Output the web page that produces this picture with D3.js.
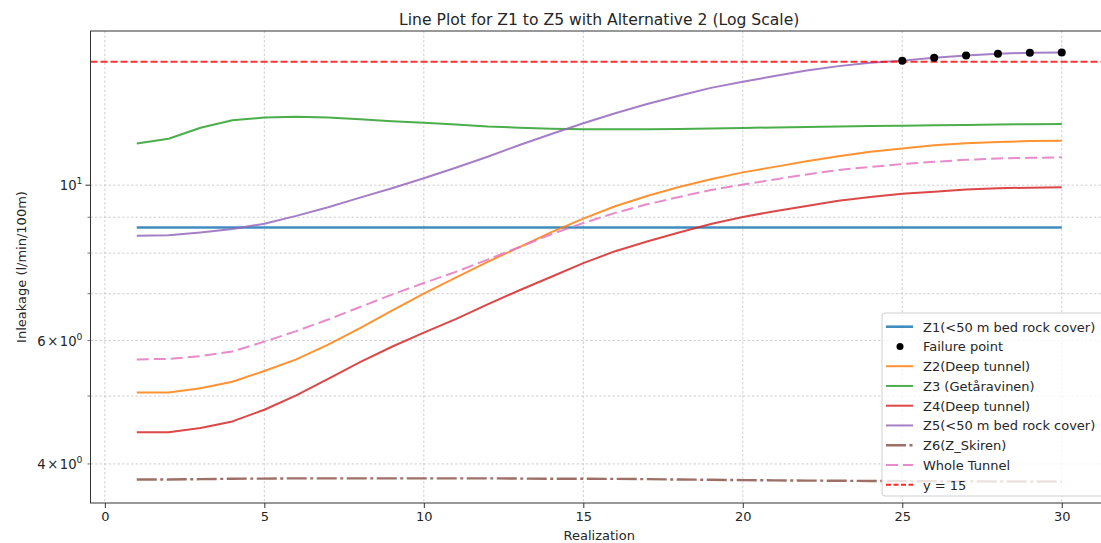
<!DOCTYPE html>
<html>
<head>
<meta charset="utf-8">
<script src="https://cdn.jsdelivr.net/npm/d3@7"></script>
<style>
  body { margin: 0; background: #fff; }
  svg { display: block; font-family: "DejaVu Sans", sans-serif; }
</style>
</head>
<body>
<svg id="chart" width="1101" height="543"></svg>
<script>
// Realization index (x axis)
const realizations = [1,2,3,4,5,6,7,8,9,10,11,12,13,14,15,16,17,18,19,20,21,22,23,24,25,26,27,28,29,30];

// Inleakage per zone (l/min/100m)
const z1 = [8.7,8.7,8.7,8.7,8.7,8.7,8.7,8.7,8.7,8.7,8.7,8.7,8.7,8.7,8.7,8.7,8.7,8.7,8.7,8.7,8.7,8.7,8.7,8.7,8.7,8.7,8.7,8.7,8.7,8.7];
const z2 = [5.06,5.06,5.13,5.24,5.43,5.64,5.92,6.25,6.62,7.00,7.38,7.77,8.16,8.57,8.96,9.33,9.65,9.94,10.20,10.43,10.62,10.82,11.00,11.16,11.28,11.40,11.48,11.53,11.56,11.57];
const z3 = [11.47,11.65,12.08,12.38,12.49,12.52,12.49,12.42,12.34,12.28,12.21,12.13,12.08,12.04,12.02,12.02,12.02,12.03,12.05,12.07,12.09,12.11,12.13,12.15,12.16,12.18,12.19,12.21,12.22,12.23];
const z4 = [4.44,4.44,4.50,4.60,4.78,5.01,5.29,5.59,5.88,6.16,6.44,6.76,7.08,7.40,7.74,8.05,8.31,8.56,8.80,9.01,9.18,9.34,9.50,9.62,9.72,9.79,9.86,9.90,9.92,9.93];
const z5 = [8.47,8.48,8.56,8.66,8.81,9.04,9.30,9.60,9.90,10.23,10.59,10.98,11.41,11.83,12.26,12.67,13.06,13.42,13.77,14.05,14.32,14.58,14.79,14.96,15.06,15.20,15.31,15.40,15.46,15.47];
const z6 = [3.800,3.800,3.805,3.810,3.812,3.815,3.815,3.815,3.815,3.815,3.815,3.815,3.812,3.810,3.810,3.808,3.805,3.800,3.797,3.793,3.790,3.787,3.785,3.782,3.780,3.778,3.777,3.776,3.775,3.775];
const wholeTunnel = [5.64,5.65,5.70,5.79,5.98,6.19,6.43,6.70,6.98,7.25,7.52,7.83,8.16,8.51,8.83,9.13,9.39,9.62,9.84,10.02,10.19,10.36,10.51,10.62,10.72,10.80,10.87,10.92,10.94,10.96];

// Failure threshold
const threshold = 15;

// Axis ticks
const xTicks = [0,5,10,15,20,25,30];
const yMajorTicks = [10];
const yMinorTicks = [4,5,6,7,8,9];
const yLabelled = [
  { v: 4, mant: "4", exp: "0" },
  { v: 6, mant: "6", exp: "0" },
  { v: 10, mant: null, exp: "1" }
];

const series = [
  { name: "Z1(<50 m bed rock cover)", values: z1, color: "#1f77b4", width: 2.6, dash: null },
  { name: "Z2(Deep tunnel)", values: z2, color: "#ff7f0e", width: 2, dash: null },
  { name: "Z3 (Getåravinen)", values: z3, color: "#2ca02c", width: 2, dash: null },
  { name: "Z4(Deep tunnel)", values: z4, color: "#d62728", width: 2, dash: null },
  { name: "Z5(<50 m bed rock cover)", values: z5, color: "#9467bd", width: 2, dash: null },
  { name: "Z6(Z_Skiren)", values: z6, color: "#8c564b", width: 2.4, dash: "20,3.5,3,3.5" },
  { name: "Whole Tunnel", values: wholeTunnel, color: "#e377c2", width: 2, dash: "12,5" }
];

const failures = realizations
  .map((r, i) => ({ x: r, y: z5[i] }))
  .filter(d => d.y > threshold);

const svg = d3.select("#chart");
const plot = { left: 90.5, right: 1108, top: 31, bottom: 503 };
const textColor = "#262626";

// Axis limits padded by 5% of the data span (log span for y)
const xExt = d3.extent(realizations);
const xPad = (xExt[1] - xExt[0]) * 0.05;
const allY = [].concat(...series.map(s => s.values), [threshold]);
const lyMin = Math.log10(d3.min(allY)), lyMax = Math.log10(d3.max(allY));
const lyPad = (lyMax - lyMin) * 0.05;

const x = d3.scaleLinear().domain([xExt[0] - xPad, xExt[1] + xPad]).range([plot.left, plot.right]);
const y = d3.scaleLog().domain([Math.pow(10, lyMin - lyPad), Math.pow(10, lyMax + lyPad)]).range([plot.bottom, plot.top]);

const defs = svg.append("defs");
defs.append("clipPath").attr("id", "plotClip")
  .append("rect")
  .attr("x", plot.left).attr("y", plot.top)
  .attr("width", plot.right - plot.left).attr("height", plot.bottom - plot.top);

// Grid (major and minor)
const grid = svg.append("g").attr("stroke", "#c4c4c4").attr("stroke-width", 0.8).attr("stroke-dasharray", "2.5,2");
grid.selectAll("line.vx").data(xTicks).join("line")
  .attr("x1", d => x(d)).attr("x2", d => x(d))
  .attr("y1", plot.top).attr("y2", plot.bottom);
grid.selectAll("line.hy").data(yMajorTicks.concat(yMinorTicks)).join("line")
  .attr("x1", plot.left).attr("x2", plot.right)
  .attr("y1", d => y(d)).attr("y2", d => y(d));

// Lines
const gLines = svg.append("g").attr("clip-path", "url(#plotClip)");
const line = d3.line().x((d, i) => x(realizations[i])).y(d => y(d));

function drawSeries(s) {
  gLines.append("path")
    .attr("d", line(s.values))
    .attr("fill", "none")
    .attr("stroke", s.color)
    .attr("stroke-opacity", 0.85)
    .attr("stroke-width", s.width)
    .attr("stroke-dasharray", s.dash)
    .attr("stroke-linejoin", "round");
}
series.forEach(drawSeries);

// Threshold line
gLines.append("line")
  .attr("x1", plot.left).attr("x2", plot.right)
  .attr("y1", y(threshold)).attr("y2", y(threshold))
  .attr("stroke", "#ff0000").attr("stroke-opacity", 0.8)
  .attr("stroke-width", 2).attr("stroke-dasharray", "7,3");

// Failure points
gLines.selectAll("circle.fail").data(failures).join("circle")
  .attr("cx", d => x(d.x)).attr("cy", d => y(d.y))
  .attr("r", 4).attr("fill", "#000");

// Spines
svg.append("rect")
  .attr("x", plot.left).attr("y", plot.top)
  .attr("width", plot.right - plot.left).attr("height", plot.bottom - plot.top)
  .attr("fill", "none").attr("stroke", "#333").attr("stroke-width", 1);

// X axis
const xAxis = d3.axisBottom(x).tickValues(xTicks).tickSize(5).tickPadding(4).tickFormat(d3.format("d"));
const gx = svg.append("g").attr("transform", `translate(0,${plot.bottom})`).call(xAxis);
gx.select(".domain").remove();
gx.selectAll(".tick line").attr("stroke", "#333");
gx.selectAll(".tick text").attr("font-size", 13).attr("font-family", "DejaVu Sans").attr("fill", textColor);

// Y axis: major + minor tick marks
const gy = svg.append("g");
gy.selectAll("line.maj").data(yMajorTicks).join("line")
  .attr("x1", plot.left - 5).attr("x2", plot.left)
  .attr("y1", d => y(d)).attr("y2", d => y(d)).attr("stroke", "#333");
gy.selectAll("line.min").data(yMinorTicks).join("line")
  .attr("x1", plot.left - 3).attr("x2", plot.left)
  .attr("y1", d => y(d)).attr("y2", d => y(d)).attr("stroke", "#333").attr("stroke-width", 0.7);

const yl = gy.selectAll("text.yl").data(yLabelled).join("text")
  .attr("x", plot.left - 8).attr("y", d => y(d.v) + 5)
  .attr("text-anchor", "end").attr("font-size", 13.2).attr("fill", textColor);
yl.each(function(d) {
  const t = d3.select(this);
  if (d.mant) {
    t.append("tspan").text(d.mant);
    t.append("tspan").text("\u00d7").attr("dx", 1.5);
    t.append("tspan").text("10").attr("dx", 1.5);
  } else {
    t.append("tspan").text("10");
  }
  t.append("tspan").text(d.exp).attr("font-size", 9.3).attr("dy", -6);
});

// Title and axis labels
svg.append("text").attr("x", (plot.left + plot.right) / 2).attr("y", 25)
  .attr("text-anchor", "middle").attr("font-size", 15.6).attr("fill", textColor)
  .text("Line Plot for Z1 to Z5 with Alternative 2 (Log Scale)");
svg.append("text").attr("x", (plot.left + plot.right) / 2).attr("y", 540)
  .attr("text-anchor", "middle").attr("font-size", 13).attr("fill", textColor)
  .text("Realization");
svg.append("text")
  .attr("transform", `translate(26,${(plot.top + plot.bottom) / 2}) rotate(-90)`)
  .attr("text-anchor", "middle").attr("font-size", 13).attr("fill", textColor)
  .text("Inleakage (l/min/100m)");

// Legend
const legendItems = [
  { label: series[0].name, kind: "line", s: series[0] },
  { label: "Failure point", kind: "dot" },
  { label: series[1].name, kind: "line", s: series[1] },
  { label: series[2].name, kind: "line", s: series[2] },
  { label: series[3].name, kind: "line", s: series[3] },
  { label: series[4].name, kind: "line", s: series[4] },
  { label: series[5].name, kind: "line", s: series[5] },
  { label: series[6].name, kind: "line", s: series[6] },
  { label: "y = 15", kind: "line", s: { color: "#ff0000", width: 2, dash: "5,2.5" } }
];
const lg = svg.append("g").attr("transform", "translate(882,313)");
lg.append("rect").attr("x", 0).attr("y", 0).attr("width", 222).attr("height", 183)
  .attr("rx", 3).attr("fill", "#fff").attr("fill-opacity", 0.8)
  .attr("stroke", "#d0d0d0").attr("stroke-width", 1);
const rows = lg.selectAll("g.row").data(legendItems).join("g")
  .attr("transform", (d, i) => `translate(0,${13.7 + i * 19.75})`);
rows.each(function(d) {
  const r = d3.select(this);
  if (d.kind === "dot") {
    r.append("circle").attr("cx", 18).attr("cy", 0).attr("r", 3.5).attr("fill", "#000");
  } else {
    r.append("line").attr("x1", 4).attr("x2", 31).attr("y1", 0).attr("y2", 0)
      .attr("stroke", d.s.color).attr("stroke-opacity", 0.85)
      .attr("stroke-width", d.s.width).attr("stroke-dasharray", d.s.dash);
  }
  r.append("text").attr("x", 41).attr("y", 5).attr("font-size", 13).attr("fill", textColor).text(d.label);
});
</script>
</body>
</html>
